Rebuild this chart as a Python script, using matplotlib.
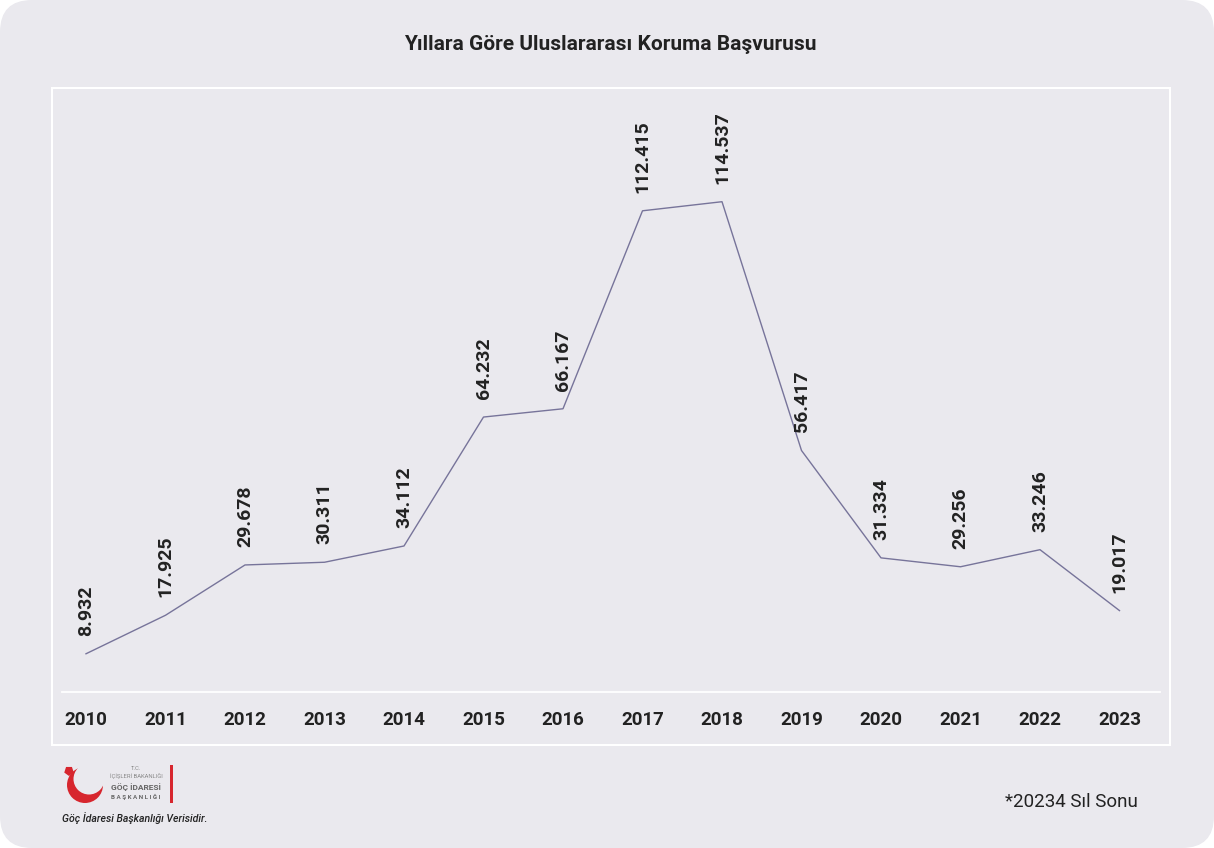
import matplotlib.pyplot as plt
from matplotlib.patches import FancyBboxPatch, Rectangle, Circle, RegularPolygon

plt.rcParams['font.family'] = ['Roboto', 'DejaVu Sans']

# ===veri
yillar = [2010, 2011, 2012, 2013, 2014, 2015, 2016, 2017, 2018, 2019, 2020, 2021, 2022, 2023]
basvuru = [8932, 17925, 29678, 30311, 34112, 64232, 66167, 112415, 114537, 56417, 31334, 29256, 33246, 19017]
etiketler = ['8.932', '17.925', '29.678', '30.311', '34.112', '64.232', '66.167',
             '112.415', '114.537', '56.417', '31.334', '29.256', '33.246', '19.017']
baslik = 'Yıllara Göre Uluslararası Koruma Başvurusu'
dipnot = '*20234 Sıl Sonu'
kaynak = 'Göç İdaresi Başkanlığı Verisidir.'

W, H = 1214, 848
bg = '#EAE9EE'
text_c = '#222222'
line_c = '#77749A'
red = '#D7262E'

fig = plt.figure(figsize=(W / 100, H / 100), dpi=100)
fig.patch.set_facecolor('white')

# arka plan / cerceve (piksel koordinatlari)
deco = fig.add_axes([0, 0, 1, 1], zorder=0)
deco.set_xlim(0, W)
deco.set_ylim(H, 0)
deco.axis('off')
deco.add_patch(FancyBboxPatch((0, 0), W, H, boxstyle='round,pad=0,rounding_size=32',
                              fc=bg, ec='none'))
deco.add_patch(Rectangle((52, 88), 1118, 657, fill=False, ec='white', lw=1.5))

# logo
deco.add_patch(Circle((85, 785), 18, fc=red, ec='none'))
deco.add_patch(Circle((89, 779), 15.5, fc=bg, ec='none'))
deco.add_patch(RegularPolygon((69, 771), 5, radius=5, fc=red, ec='none'))
deco.add_patch(Rectangle((169.5, 765), 3, 38, fc=red, ec='none'))
deco.text(136, 768, 'T.C.', fontsize=4.2, color='#888888', ha='center', va='center')
deco.text(136, 776, 'İÇİŞLERİ BAKANLIĞI', fontsize=4.2, color='#888888', ha='center', va='center')
deco.text(136, 787, 'GÖÇ İDARESİ', fontsize=6, color='#666666', ha='center', va='center',
          fontweight='bold')
deco.text(136, 797, 'B A Ş K A N L I Ğ I', fontsize=4.5, color='#666666', ha='center',
          va='center', fontweight='bold')
deco.text(62, 818, kaynak, fontsize=7.6, color=text_c, style='italic', fontweight='medium',
          ha='left', va='center')
deco.text(1138, 802, dipnot, fontsize=13.5, color=text_c, ha='right', va='center')
deco.text(610, 45, baslik, fontsize=15, color=text_c, ha='center', va='center',
          fontweight='bold')

# ===grafik
ax = fig.add_axes([52 / W, 1 - 692 / H, 1118 / W, (692 - 88) / H], zorder=1)
ax.patch.set_alpha(0)
for s in ax.spines.values():
    s.set_visible(False)
ax.set_xlim(2010 - 34 / 79.5, 2010 + 1084 / 79.5)
ax.set_ylim(0, 141100)
ax.axhline(0, xmin=10 / 1118, xmax=1108 / 1118, color='white', lw=1.3, clip_on=False)

ax.plot(yillar, basvuru, color=line_c, lw=1.0)
for x, y, t in zip(yillar, basvuru, etiketler):
    ax.annotate(t, (x, y), xytext=(0, 13), textcoords='offset points', rotation=90,
                ha='center', va='bottom', fontsize=14, fontweight='bold', color=text_c)

ax.set_xticks(yillar)
ax.set_xticklabels([str(y) for y in yillar], fontsize=13.5, fontweight='bold', color=text_c)
ax.tick_params(axis='x', length=0, pad=14)
ax.set_yticks([])

fig.savefig('out.png', dpi=100, facecolor='white')
